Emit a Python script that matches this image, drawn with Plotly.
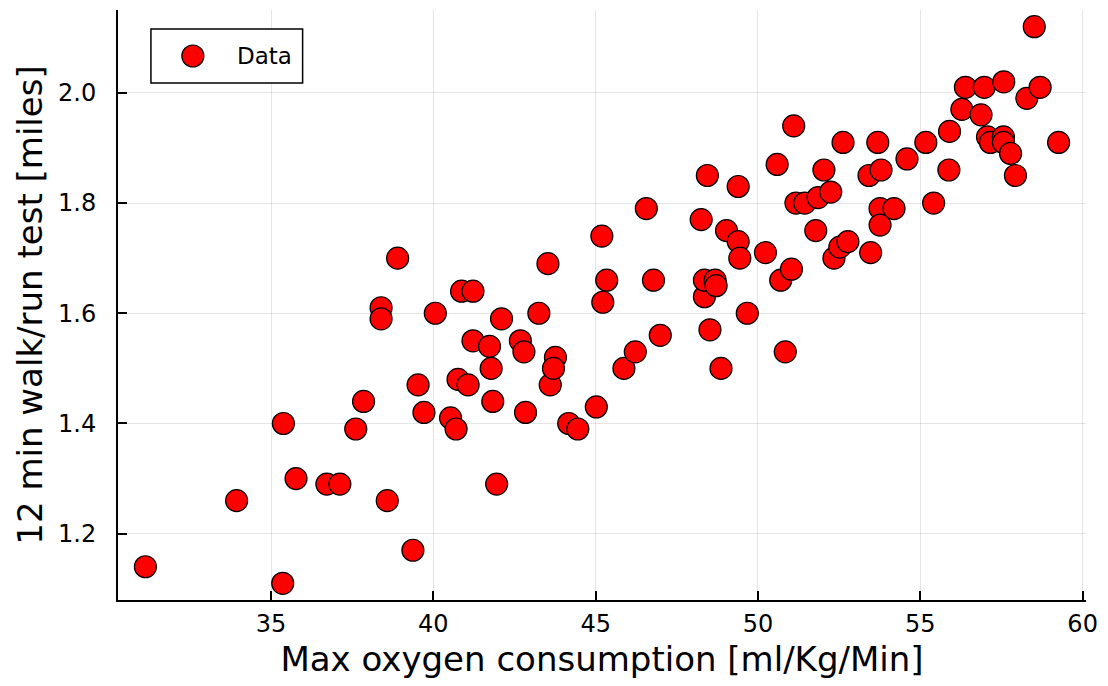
import plotly.graph_objects as go

# ---- data ----
vo2_max = [
    31.13, 33.94, 35.38, 35.36, 35.77, 36.72, 37.12, 37.61, 37.85, 38.39,
    38.39, 38.58, 38.90, 39.37, 39.53, 39.71, 40.06, 40.53, 40.70, 40.76,
    40.87, 41.07, 41.22, 41.22, 41.73, 41.78, 41.83, 41.95, 42.10, 42.68,
    42.79, 42.84, 43.25, 43.53, 43.60, 43.76, 43.70, 44.17, 44.45, 45.02,
    45.19, 45.22, 45.34, 45.87, 46.22, 46.56, 46.78, 46.99, 48.25, 48.35,
    48.35, 48.44, 48.52, 48.68, 48.71, 48.86, 49.03, 49.39, 49.39, 49.44,
    49.67, 50.23, 50.59, 50.70, 50.84, 51.03, 51.10, 51.17, 51.44, 51.78,
    51.85, 52.03, 52.24, 52.34, 52.52, 52.62, 52.77, 53.47, 53.42, 53.69,
    53.76, 53.76, 53.79, 54.19, 54.59, 55.17, 55.41, 55.90, 55.88, 56.28,
    56.39, 56.87, 56.97, 57.07, 57.16, 57.57, 57.56, 57.56, 57.78, 57.93,
    58.28, 58.51, 58.69, 59.26,
]
walk_run_miles = [
    1.14, 1.26, 1.40, 1.11, 1.30, 1.29, 1.29, 1.39, 1.44, 1.61,
    1.59, 1.26, 1.70, 1.17, 1.47, 1.42, 1.60, 1.41, 1.39, 1.48,
    1.64, 1.47, 1.64, 1.55, 1.54, 1.50, 1.44, 1.29, 1.59, 1.55,
    1.53, 1.42, 1.60, 1.69, 1.47, 1.52, 1.50, 1.40, 1.39, 1.43,
    1.74, 1.62, 1.66, 1.50, 1.53, 1.79, 1.66, 1.56, 1.77, 1.63,
    1.66, 1.85, 1.57, 1.66, 1.65, 1.50, 1.75, 1.83, 1.73, 1.70,
    1.60, 1.71, 1.87, 1.66, 1.53, 1.68, 1.94, 1.80, 1.80, 1.75,
    1.81, 1.86, 1.82, 1.70, 1.72, 1.91, 1.73, 1.71, 1.85, 1.91,
    1.79, 1.76, 1.86, 1.79, 1.88, 1.91, 1.80, 1.93, 1.86, 1.97,
    2.01, 1.96, 2.01, 1.92, 1.91, 2.02, 1.92, 1.91, 1.89, 1.85,
    1.99, 2.12, 2.01, 1.91,
]
x_ticks = [35, 40, 45, 50, 55, 60]
y_ticks = [1.2, 1.4, 1.6, 1.8, 2.0]
series_name = "Data"
x_title = "Max oxygen consumption [ml/Kg/Min]"
y_title = "12 min walk/run test [miles]"

# ---- layout constants ----
W, H = 1108, 686
L, R, T, B = 118, 20, 10, 86
FONT = "DejaVu Sans"
RED = "#ff0000"
TICK_SIZE = 24
TITLE_SIZE = 34


def padded(vals, frac=0.03):
    lo, hi = min(vals), max(vals)
    d = (hi - lo) * frac
    return [lo - d, hi + d]


def px_to_paper_x(px):
    return (px - L) / (W - L - R)


def px_to_paper_y(py):
    return (H - B - py) / (H - T - B)


fig = go.Figure()
fig.add_trace(go.Scatter(
    x=vo2_max, y=walk_run_miles, mode="markers", name=series_name,
    marker=dict(size=22, color=RED, line=dict(color="black", width=1.2)),
))

axis_common = dict(
    showline=True, linecolor="black", linewidth=2,
    ticks="inside", ticklen=9, tickwidth=1.5, tickcolor="black",
    showgrid=True, gridcolor="rgba(0,0,0,0.1)", gridwidth=1,
    zeroline=False, mirror=False,
    tickfont=dict(family=FONT, size=TICK_SIZE, color="black"),
)

fig.update_xaxes(range=padded(vo2_max), tickvals=x_ticks,
                 ticklabelstandoff=1,
                 title=dict(text=x_title, font=dict(family=FONT, size=TITLE_SIZE, color="black"), standoff=10),
                 **axis_common)
fig.update_yaxes(range=padded(walk_run_miles), tickvals=y_ticks, tickformat=".1f",
                 ticklabelstandoff=15,
                 title=dict(text=y_title, font=dict(family=FONT, size=TITLE_SIZE, color="black"), standoff=5),
                 **axis_common)

# ---- legend box drawn like the reference ----
box_l, box_r, box_t, box_b = 151, 303, 29, 83
mid_y = (box_t + box_b) / 2
fig.add_shape(type="rect", xref="paper", yref="paper",
              x0=px_to_paper_x(box_l), x1=px_to_paper_x(box_r),
              y0=px_to_paper_y(box_b), y1=px_to_paper_y(box_t),
              line=dict(color="black", width=1.5), fillcolor="white", layer="above")
fig.add_shape(type="circle", xref="paper", yref="paper",
              xsizemode="pixel", ysizemode="pixel",
              xanchor=px_to_paper_x(193), yanchor=px_to_paper_y(mid_y),
              x0=-11, x1=11, y0=-11, y1=11,
              line=dict(color="black", width=1.2), fillcolor=RED, layer="above")
fig.add_annotation(xref="paper", yref="paper",
                   x=px_to_paper_x(235), y=px_to_paper_y(mid_y),
                   xanchor="left", yanchor="middle", showarrow=False,
                   text=series_name, font=dict(family=FONT, size=23, color="black"))

fig.update_layout(
    width=W, height=H,
    margin=dict(l=L, r=R, t=T, b=B),
    plot_bgcolor="white", paper_bgcolor="white",
    font=dict(family=FONT, size=TICK_SIZE, color="black"),
    showlegend=False,
)

fig.write_html(
    "out.html",
    config={"displayModeBar": False},
    post_script="document.body.style.margin='0';document.body.style.overflow='hidden';",
)
